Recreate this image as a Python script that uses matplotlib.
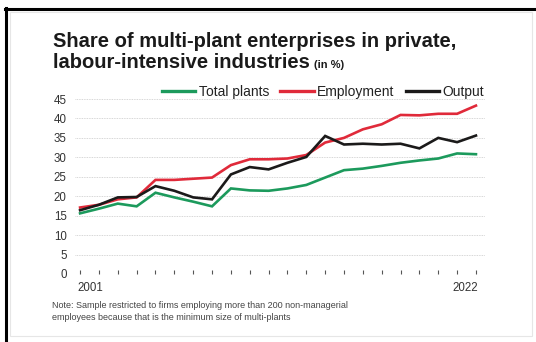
"""
Share of multi-plant enterprises in private, labour-intensive industries (in %)
Line chart, three series, 2001-2022.
"""
import matplotlib
matplotlib.use("Agg")
import matplotlib.pyplot as plt
import matplotlib.ticker as mticker
from matplotlib.lines import Line2D
from matplotlib.patches import Rectangle

FONT = ["Liberation Sans Narrow", "Liberation Sans", "DejaVu Sans"]
plt.rcParams["font.family"] = FONT

W_PX, H_PX, DPI = 536, 342, 100

years        = list(range(2001, 2023))
total_plants = [15.6, 16.8, 18.1, 17.4, 20.9, 19.7, 18.6, 17.4, 22.0, 21.5, 21.4, 22.0,
                22.9, 24.8, 26.7, 27.1, 27.8, 28.6, 29.2, 29.7, 31.0, 30.8]
employment   = [17.1, 17.8, 19.2, 19.7, 24.2, 24.2, 24.5, 24.8, 28.0, 29.5, 29.5, 29.7,
                30.6, 33.8, 35.0, 37.2, 38.5, 40.9, 40.8, 41.2, 41.2, 43.3]
output       = [16.4, 17.8, 19.7, 19.8, 22.6, 21.4, 19.7, 19.2, 25.6, 27.5, 26.9, 28.6,
                30.1, 35.5, 33.3, 33.5, 33.3, 33.5, 32.3, 35.0, 33.9, 35.6]
series_names = ["Total plants", "Employment", "Output"]
y_ticks      = [0, 5, 10, 15, 20, 25, 30, 35, 40, 45]

COLORS = ["#1c9a5c", "#e02a3a", "#1b1a1a"]


def px(x, y):
    """pixel (from top-left) -> figure fraction"""
    return x / W_PX, 1 - y / H_PX


fig = plt.figure(figsize=(W_PX / DPI, H_PX / DPI), dpi=DPI)

# frame: thick black left/top edges + faint inner box
fig.add_artist(Line2D([6 / W_PX, 6 / W_PX], [0, 1 - 8 / H_PX], transform=fig.transFigure,
                      color="black", lw=2.2))
fig.add_artist(Line2D([5 / W_PX, 1], [1 - 9 / H_PX, 1 - 9 / H_PX], transform=fig.transFigure,
                      color="black", lw=2.2))
x0, y0 = px(10, 336)
x1, y1 = px(532, 12)
fig.add_artist(Rectangle((x0, y0), x1 - x0, y1 - y0, transform=fig.transFigure,
                         fill=False, ec="#e6e6e6", lw=0.8))

# axes placed so that 2001 -> x=80, 2022 -> x=476, 0 -> y=274, 45 -> y=99
ax_l, ax_b = px(75, 274)
ax_r, ax_t = px(485, 95)
ax = fig.add_axes([ax_l, ax_b, ax_r - ax_l, ax_t - ax_b])
ax.set_xlim(2000.73, 2022.48)
ax.set_ylim(0, 45 + 4 / 3.88)

for vals, name, c in zip([total_plants, employment, output], series_names, COLORS):
    ax.plot(years, vals, color=c, lw=1.9, label=name, solid_joinstyle="miter", zorder=3)

for s in ax.spines.values():
    s.set_visible(False)
ax.set_yticks(y_ticks)
ax.yaxis.grid(True, color="#c9c9c9", lw=0.6, ls=(0, (1, 1)))
ax.set_axisbelow(True)
ax.tick_params(axis="y", length=0, pad=6, labelsize=8.3, labelcolor="#333333")

ax.set_xticks(years)
ax.xaxis.set_major_formatter(mticker.NullFormatter())
ax.tick_params(axis="x", direction="in", length=3, width=0.8, color="#555555")

ax.text(2001 - 0.15, -0.045, "2001", transform=ax.get_xaxis_transform(), ha="left", va="top",
        fontsize=8.3, color="#333333")
ax.text(2022 + 0.1, -0.045, "2022", transform=ax.get_xaxis_transform(), ha="right", va="top",
        fontsize=8.3, color="#333333")

leg = ax.legend(loc="center right", bbox_to_anchor=px(484, 92), bbox_transform=fig.transFigure,
                ncol=3, frameon=False, fontsize=10, handlelength=2.4, handletextpad=0.25,
                columnspacing=0.8, borderpad=0, borderaxespad=0)
for t in leg.get_texts():
    t.set_color("#222222")
for h in leg.get_lines():
    h.set_linewidth(2.4)

# title
tx, ty = px(53, 47)
fig.text(tx, ty, "Share of multi-plant enterprises in private,", fontsize=14.5,
         fontweight="bold", color="#1a1a1a", ha="left", va="baseline")
tx, ty = px(53, 68)
t2 = fig.text(tx, ty, "labour-intensive industries", fontsize=14.5,
              fontweight="bold", color="#1a1a1a", ha="left", va="baseline")
fig.canvas.draw()
bb = t2.get_window_extent()
fig.text((bb.x1 + 4) / W_PX, ty, "(in %)", fontsize=8, fontweight="bold",
         color="#1a1a1a", ha="left", va="baseline")

# note
nx, ny = px(52, 305)
fig.text(nx, ny, "Note: Sample restricted to firms employing more than 200 non-managerial",
         fontsize=6.5, color="#444444", ha="left", va="center")
nx, ny = px(52, 318)
fig.text(nx, ny, "employees because that is the minimum size of multi-plants",
         fontsize=6.5, color="#444444", ha="left", va="center")

fig.savefig("out.png", dpi=DPI)
